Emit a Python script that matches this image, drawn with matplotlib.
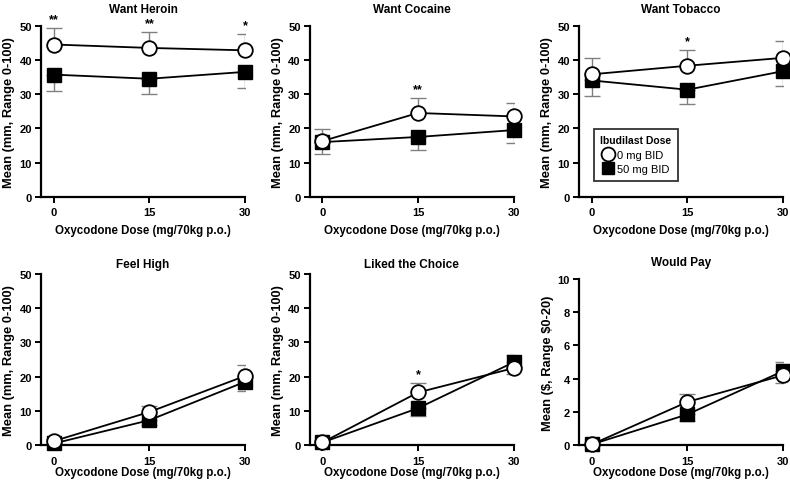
import numpy as np
import matplotlib.pyplot as plt

plt.rcParams['font.family'] = ['Liberation Sans', 'DejaVu Sans']
plt.rcParams['font.weight'] = 'bold'
plt.rcParams['mathtext.default'] = 'regular'

# --- dados -------------------------------------------------------------------
doses = [0, 15, 30]
series_names = ["0 mg BID", "50 mg BID"]

titles = ["Want Heroin", "Want Cocaine", "Want Tobacco",
          "Feel High", "Liked the Choice", "Would Pay"]

heroin_0 = [44.5, 43.5, 42.8]
heroin_0_err = [4.8, 4.7, 4.7]
heroin_50 = [35.7, 34.5, 36.5]
heroin_50_err = [4.7, 4.5, 4.6]
heroin_stars = ["**", "**", "*"]

cocaine_0 = [16.3, 24.5, 23.5]
cocaine_0_err = [3.5, 4.3, 4.0]
cocaine_50 = [16.0, 17.5, 19.5]
cocaine_50_err = [3.4, 3.7, 3.7]
cocaine_stars = ["", "**", ""]

tobacco_0 = [35.8, 38.3, 40.6]
tobacco_0_err = [4.8, 4.7, 4.8]
tobacco_50 = [34.0, 31.3, 36.7]
tobacco_50_err = [4.4, 4.3, 4.4]
tobacco_stars = ["", "*", ""]

high_0 = [1.2, 9.7, 20.2]
high_0_err = [0.5, 1.8, 3.1]
high_50 = [0.5, 7.3, 18.5]
high_50_err = [0.4, 1.3, 2.7]
high_stars = ["", "", ""]

liked_0 = [0.8, 15.4, 22.5]
liked_0_err = [0.4, 2.8, 1.8]
liked_50 = [0.8, 10.8, 24.2]
liked_50_err = [0.4, 2.3, 2.2]
liked_stars = ["", "*", ""]

pay_0 = [0.05, 2.6, 4.2]
pay_0_err = [0.05, 0.45, 0.45]
pay_50 = [0.05, 1.85, 4.45]
pay_50_err = [0.05, 0.4, 0.55]
pay_stars = ["", "", ""]

panels = [
    (heroin_0, heroin_0_err, heroin_50, heroin_50_err, heroin_stars),
    (cocaine_0, cocaine_0_err, cocaine_50, cocaine_50_err, cocaine_stars),
    (tobacco_0, tobacco_0_err, tobacco_50, tobacco_50_err, tobacco_stars),
    (high_0, high_0_err, high_50, high_50_err, high_stars),
    (liked_0, liked_0_err, liked_50, liked_50_err, liked_stars),
    (pay_0, pay_0_err, pay_50, pay_50_err, pay_stars),
]

ylabel_mm = "Mean (mm, Range 0-100)"
ylabel_pay = "Mean (\\$, Range \\$0-20)"
xlabel = "Oxycodone Dose (mg/70kg p.o.)"

# -----------------------------------------------------------------------------

fig = plt.figure(figsize=(7.9, 4.85), dpi=100)

lefts = [0.052, 0.392, 0.733]
bottoms = [0.592, 0.080]
w, h = 0.258, 0.353

for k, (y0, e0, y1, e1, stars) in enumerate(panels):
    row, col = divmod(k, 3)
    hh = h - 0.010 if k == 5 else h
    ax = fig.add_axes([lefts[col], bottoms[row], w, hh])
    y0 = np.array(y0); y1 = np.array(y1)
    e0 = np.array(e0); e1 = np.array(e1)

    # barra de erro para cima na serie mais alta, para baixo na mais baixa
    up0 = y0 >= y1
    err0 = np.vstack([np.where(up0, 0, e0), np.where(up0, e0, 0)])
    err1 = np.vstack([np.where(up0, e1, 0), np.where(up0, 0, e1)])

    ax.errorbar(doses, y0, yerr=err0, fmt='none', ecolor='#808080',
                elinewidth=1.0, capsize=5.5, capthick=1.0, zorder=2)
    ax.errorbar(doses, y1, yerr=err1, fmt='none', ecolor='#808080',
                elinewidth=1.0, capsize=5.5, capthick=1.0, zorder=2)
    ax.plot(doses, y0, '-', color='black', lw=1.3, marker='o', ms=10.5,
            mfc='white', mec='black', mew=1.3, label=series_names[0],
            zorder=4, clip_on=False)
    ax.plot(doses, y1, '-', color='black', lw=1.3, marker='s', ms=9.5,
            mfc='black', mec='black', label=series_names[1], zorder=3,
            clip_on=False)

    top = np.maximum(y0 + np.where(up0, e0, 0), y1 + np.where(up0, 0, e1))
    for xi, ti, s in zip(doses, top, stars):
        if s:
            ax.annotate(s, (xi, ti), xytext=(0, 2), textcoords='offset points',
                        ha='center', va='bottom', fontsize=9,
                        fontweight='bold', annotation_clip=False)

    if k == 5:
        ax.set_ylim(0, 10)
        ax.set_yticks([0, 2, 4, 6, 8, 10])
        ax.set_ylabel(ylabel_pay, fontsize=9.3, fontweight='bold', labelpad=3)
    else:
        ax.set_ylim(0, 50)
        ax.set_yticks([0, 10, 20, 30, 40, 50])
        ax.set_ylabel(ylabel_mm, fontsize=9.3, fontweight='bold', labelpad=3)
    ax.set_xlim(-2, 30)
    ax.set_xticks(doses)
    ax.set_xlabel(xlabel, fontsize=8.3, fontweight='bold',
                  labelpad=5 if row == 0 else 0)
    if row == 0:
        tpad = 10
    elif k == 5:
        tpad = 10
    else:
        tpad = 5
    ax.set_title(titles[k], fontsize=8.5, fontweight='bold', pad=tpad)

    ax.spines['top'].set_visible(False)
    ax.spines['right'].set_visible(False)
    ax.spines['left'].set_linewidth(1.6)
    ax.spines['bottom'].set_linewidth(1.6)
    ax.tick_params(direction='out', length=4, width=1.4, labelsize=8)
    ax.tick_params(axis='y', pad=2.5)
    for lab in ax.get_xticklabels() + ax.get_yticklabels():
        lab.set_fontweight('bold')

    if k == 2:
        leg = ax.legend(title="Ibudilast Dose", loc='lower left',
                        bbox_to_anchor=(0.045, 0.06), frameon=True,
                        fancybox=False, edgecolor='black', fontsize=8,
                        title_fontsize=7.5, handlelength=0.9,
                        handletextpad=0.4, borderpad=0.6, labelspacing=0.4,
                        markerscale=0.95)
        leg.get_frame().set_linewidth(1.3)
        leg.get_title().set_fontweight('bold')
        for t in leg.get_texts():
            t.set_fontweight('normal')
        for hnd in leg.legend_handles:
            hnd.set_linestyle('none')

plt.savefig("out.png", dpi=100)
